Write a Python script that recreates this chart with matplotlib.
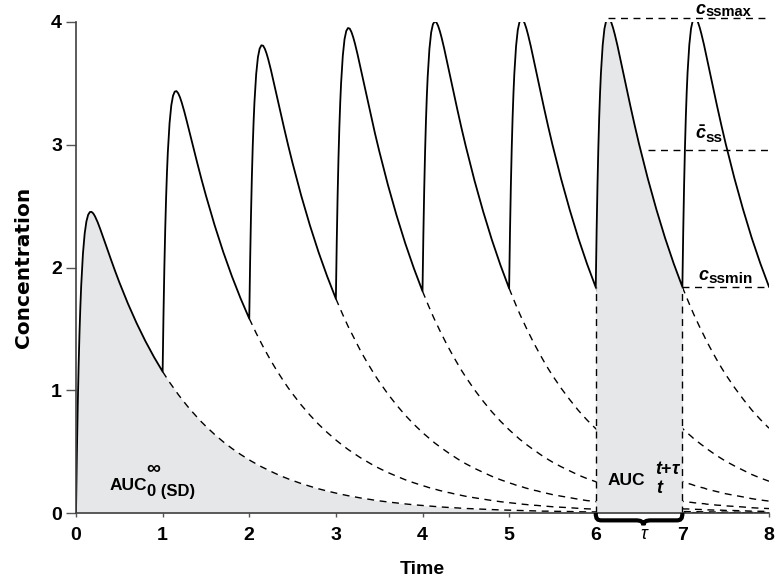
import matplotlib
matplotlib.use("Agg")
import matplotlib.pyplot as plt
import numpy as np
from matplotlib.path import Path
from matplotlib.patches import PathPatch

plt.rcParams['font.family'] = ['Liberation Sans', 'DejaVu Sans']
plt.rcParams['mathtext.fontset'] = 'custom'
plt.rcParams['mathtext.it'] = 'Liberation Sans:italic:bold'
plt.rcParams['mathtext.rm'] = 'Liberation Sans:bold'

# time offsets inside one dosing interval (tau = 1)
offsets = [0, .01, .02, .03, .04, .05, .06, .08, .10, .12, .14, .16, .18,
           .20, .22, .25, .28, .32, .36, .40, .45, .50, .60, .70, .80, .90]
dose_times = [0, 1, 2, 3, 4, 5, 6, 7]

# single dose concentration, one row per interval
single_dose = [
    [0.000, 0.476, 0.869, 1.192, 1.458, 1.675, 1.852, 2.111, 2.276, 2.375, 2.429, 2.452, 2.453,
     2.440, 2.416, 2.369, 2.313, 2.234, 2.153, 2.072, 1.974, 1.880, 1.705, 1.546, 1.402, 1.271],
    [1.152, 1.141, 1.130, 1.119, 1.108, 1.097, 1.086, 1.065, 1.045, 1.024, 1.004, 0.985, 0.966,
     0.947, 0.929, 0.902, 0.876, 0.842, 0.810, 0.779, 0.741, 0.706, 0.640, 0.580, 0.526, 0.477],
    [0.432, 0.428, 0.424, 0.420, 0.416, 0.412, 0.408, 0.400, 0.392, 0.384, 0.377, 0.370, 0.363,
     0.356, 0.349, 0.339, 0.329, 0.316, 0.304, 0.292, 0.278, 0.265, 0.240, 0.218, 0.197, 0.179],
    [0.162, 0.161, 0.159, 0.158, 0.156, 0.155, 0.153, 0.150, 0.147, 0.144, 0.141, 0.139, 0.136,
     0.133, 0.131, 0.127, 0.123, 0.119, 0.114, 0.110, 0.104, 0.099, 0.090, 0.082, 0.074, 0.067],
    [0.061, 0.060, 0.060, 0.059, 0.059, 0.058, 0.057, 0.056, 0.055, 0.054, 0.053, 0.052, 0.051,
     0.050, 0.049, 0.048, 0.046, 0.045, 0.043, 0.041, 0.039, 0.037, 0.034, 0.031, 0.028, 0.025],
    [0.023, 0.023, 0.022, 0.022, 0.022, 0.022, 0.022, 0.021, 0.021, 0.020, 0.020, 0.020, 0.019,
     0.019, 0.018, 0.018, 0.017, 0.017, 0.016, 0.015, 0.015, 0.014, 0.013, 0.012, 0.010, 0.009],
    [0.009, 0.008, 0.008, 0.008, 0.008, 0.008, 0.008, 0.008, 0.008, 0.008, 0.007, 0.007, 0.007,
     0.007, 0.007, 0.007, 0.007, 0.006, 0.006, 0.006, 0.006, 0.005, 0.005, 0.004, 0.004, 0.004],
    [0.003, 0.003, 0.003, 0.003, 0.003, 0.003, 0.003, 0.003, 0.003, 0.003, 0.003, 0.003, 0.003,
     0.003, 0.003, 0.003, 0.002, 0.002, 0.002, 0.002, 0.002, 0.002, 0.002, 0.002, 0.001, 0.001],
]
single_dose_end = 0.001  # value at t = 8

t_grid = np.array([o + d for d in range(len(single_dose)) for o in offsets] + [8.0])
sd = np.array([v for row in single_dose for v in row] + [single_dose_end])

# superposition of the doses
n = len(offsets)
N = len(t_grid)
contrib = []
for k in dose_times:
    c = np.zeros(N)
    c[k * n:] = sd[:N - k * n]
    contrib.append(c)
contrib = np.array(contrib)
total = contrib.sum(axis=0)

fig = plt.figure(figsize=(7.77, 5.8), dpi=100)
ax = fig.add_axes([76 / 777, 67 / 580, 693 / 777, 491 / 580])

gray = '#e6e7e8'
ds = (0, (5, 4))
ax.fill_between(t_grid, 0, sd, color=gray, lw=0, zorder=1)

for k in range(1, 8):
    part = contrib[:k].sum(axis=0)
    ax.plot(t_grid[k * n:], part[k * n:], color='black', lw=1.0, ls=ds, zorder=2)

# steady state interval 6..7
i6, i7 = 6 * n, 7 * n
seg = total[i6:i7 + 1]
tseg = t_grid[i6:i7 + 1]
ax.fill_between(tseg, 0, seg, color=gray, lw=0, zorder=2.5)

ax.plot(t_grid, total, color='black', lw=1.3, zorder=3)

cmax = seg.max()
tmax = tseg[seg.argmax()]
cavg = np.trapezoid(seg, tseg)
tcross = tseg[np.argmax((tseg > tmax) & (seg <= cavg))]
cmin = total[i7]

ax.plot([tmax, 8], [cmax, cmax], color='black', lw=1.0, ls=ds, clip_on=False, zorder=2.6)
ax.plot([tcross, 8], [cavg, cavg], color='black', lw=1.0, ls=ds, clip_on=False, zorder=2.6)
ax.plot([7, 8], [cmin, cmin], color='black', lw=1.0, ls=ds, clip_on=False, zorder=2.6)
ax.plot([6, 6], [0, total[i6]], color='black', lw=1.0, ls=ds, zorder=2.6)
ax.plot([7, 7], [0, cmin], color='black', lw=1.0, ls=ds, zorder=2.6)

ax.set_xlim(0, 8)
ax.set_ylim(0, 4)
ax.set_xticks(range(9))
ax.set_yticks(range(5))
for s in ['top', 'right']:
    ax.spines[s].set_visible(False)
for s in ['left', 'bottom']:
    ax.spines[s].set_color('#404040')
    ax.spines[s].set_linewidth(1.2)
    ax.spines[s].set_zorder(4)
ax.tick_params(axis='x', direction='out', length=3, width=1, color='#555555', labelsize=14, pad=7)
ax.tick_params(axis='y', direction='out', length=7, width=1, color='#555555', labelsize=14, pad=3)
for lab in ax.get_xticklabels() + ax.get_yticklabels():
    lab.set_fontweight('bold')
ax.set_xlabel('Time', fontsize=14, fontweight='bold', labelpad=12)
ax.set_ylabel('Concentration', fontsize=14.5, fontweight='bold', labelpad=13,
              family=['DejaVu Sans'])

tk = dict(color='black', fontweight='bold', clip_on=False, zorder=6)
ax.text(0.39, 0.187, 'AUC', fontsize=12.5, ha='left', va='baseline', **tk)
ax.text(0.81, 0.32, '\u221e', fontsize=14, ha='left', va='baseline', **tk)
ax.text(0.82, 0.14, '0 (SD)', fontsize=12, ha='left', va='baseline', **tk)

ax.text(6.14, 0.228, 'AUC', fontsize=12.5, ha='left', va='baseline', **tk)
ax.text(6.68, 0.315, '$t$+$\\tau$', fontsize=13, ha='left', va='baseline', **tk)
ax.text(6.69, 0.163, '$t$', fontsize=13, ha='left', va='baseline', **tk)

ax.text(7.15, 4.065, '$c$', fontsize=13, ha='left', va='baseline', **tk)
ax.text(7.27, 4.05, 'ssmax', fontsize=10.5, ha='left', va='baseline', **tk)
ax.text(7.15, 3.05, '$\\bar{c}$', fontsize=13, ha='left', va='baseline', **tk)
ax.text(7.27, 3.02, 'ss', fontsize=11, ha='left', va='baseline', **tk)
ax.text(7.18, 1.90, '$c$', fontsize=13, ha='left', va='baseline', **tk)
ax.text(7.30, 1.87, 'ssmin', fontsize=11, ha='left', va='baseline', **tk)

# brace under the dosing interval
verts = [(6.0, 0.0), (6.0, -0.05), (6.02, -0.06), (6.07, -0.06),
         (6.46, -0.06), (6.52, -0.06), (6.55, -0.07), (6.55, -0.10),
         (6.55, -0.07), (6.58, -0.06), (6.64, -0.06),
         (6.93, -0.06), (6.98, -0.06), (7.0, -0.05), (7.0, 0.0)]
codes = [Path.MOVETO, Path.CURVE4, Path.CURVE4, Path.CURVE4,
         Path.LINETO, Path.CURVE4, Path.CURVE4, Path.CURVE4,
         Path.CURVE4, Path.CURVE4, Path.CURVE4,
         Path.LINETO, Path.CURVE4, Path.CURVE4, Path.CURVE4]
ax.add_patch(PathPatch(Path(verts, codes), fc='none', ec='black', lw=3,
                       clip_on=False, zorder=5))
ax.text(6.55, -0.175, '\u03c4', fontsize=13, style='italic', ha='center', va='center',
        color='black', clip_on=False, zorder=6)

fig.savefig('out.png', dpi=100)
